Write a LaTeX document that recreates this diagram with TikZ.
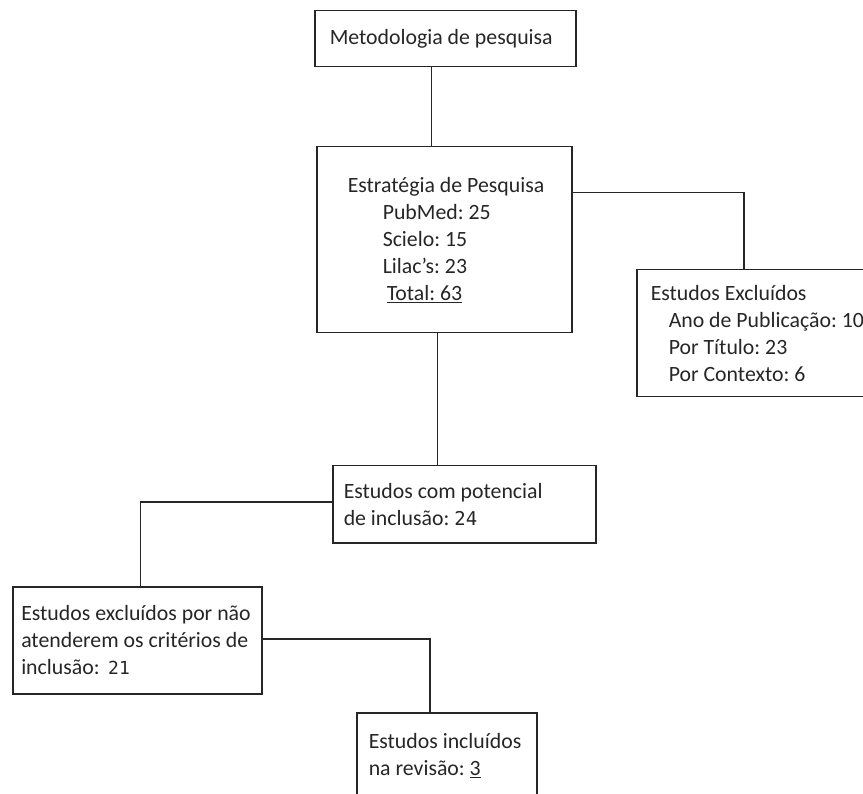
\documentclass[tikz,border=0pt]{standalone}
\usepackage{fontspec}
\setmainfont{Carlito}
\newfontfamily\numfont{DejaVu Sans Mono}
\usepackage{tikz}
\usetikzlibrary{positioning}

\begin{document}
\begin{tikzpicture}[x=1pt, y=-1pt, box/.style={draw=black!85, line width=1.5pt, align=flush left, anchor=north west, inner ysep=0pt}]
\tikzset{every node/.append style={font=\fontsize{21.8}{27}\selectfont\frenchspacing, text=black!85}}
\useasboundingbox (0,0) rectangle (863,794);

\node[box, inner xsep=15pt, text width=231pt, minimum height=56pt] (metod) at (314,10) {Metodologia de pesquisa};
\node[box, inner xsep=15pt, text width=225pt, minimum height=186pt] (estrat) at (316,146) {\hspace*{16pt}Estratégia de Pesquisa\\
\hspace*{51pt}PubMed: 25\\
\hspace*{51pt}Scielo: 15\\
\hspace*{51pt}Lilac's: 23\\
\hspace*{55pt}\underline{Total: 63}};
\node[box, inner xsep=14pt, text width=222pt, minimum height=127pt] (exclu) at (636,269) {Estudos Excluídos\\
\hspace*{18pt}Ano de Publicação: 10\\
\hspace*{18pt}Por Título: 23\\
\hspace*{18pt}Por Contexto: 6};
\node[box, inner xsep=11pt, text width=241pt, minimum height=77pt] (potenc) at (332,465) {Estudos com potencial\\
de inclusão: {\numfont\fontsize{19}{27}\selectfont 24}};
\node[box, inner xsep=8.5pt, text width=232pt, minimum height=107pt] (crit) at (12,586) {Estudos excluídos por não\\
atenderem os critérios de\\
inclusão: \,{\numfont\fontsize{18}{27}\selectfont 21}};
\node[box, inner xsep=12pt, text width=156pt, minimum height=86pt] (incl) at (356,712) {Estudos incluídos\\
na revisão: \underline{3}};

\draw[line width=1.5pt, black!85] ([xshift=-14pt]metod.south) -- ([xshift=-14pt]metod.south |- estrat.north);
\draw[line width=1.5pt, black!85] ([yshift=47pt]estrat.east) -| ([xshift=-18pt]exclu.north);
\draw[line width=1.5pt, black!85] ([xshift=-7pt]estrat.south) -- ([xshift=-7pt]estrat.south |- potenc.north);
\draw[line width=1.5pt, black!85] ([yshift=2.5pt]potenc.west) -| ([xshift=3pt]crit.north);
\draw[line width=1.5pt, black!85] ([yshift=1.5pt]crit.east) -| ([xshift=-17pt]incl.north);
\end{tikzpicture}
\end{document}
